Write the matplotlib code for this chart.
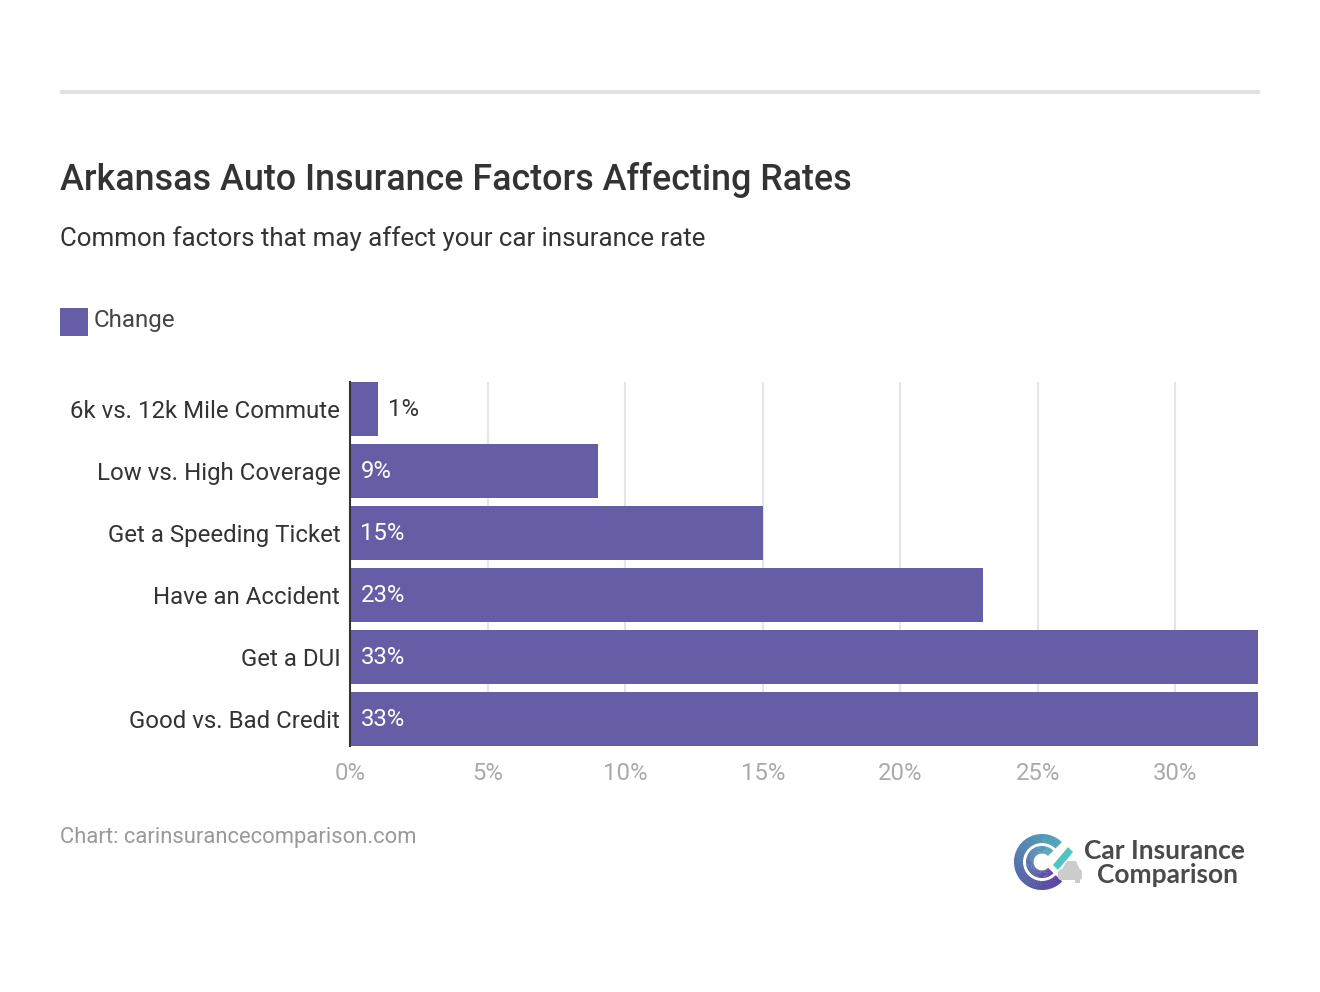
"""Arkansas auto insurance rate factors, horizontal bar chart."""
import numpy as np
import matplotlib
matplotlib.use("Agg")
import matplotlib.pyplot as plt
from matplotlib.patches import Wedge, Polygon, Rectangle, FancyBboxPatch

plt.rcParams["font.family"] = ["Roboto", "DejaVu Sans"]

categories = [
    "6k vs. 12k Mile Commute",
    "Low vs. High Coverage",
    "Get a Speeding Ticket",
    "Have an Accident",
    "Get a DUI",
    "Good vs. Bad Credit",
]
change = [1, 9, 15, 23, 33, 33]
x_ticks = [0, 5, 10, 15, 20, 25, 30]

PURPLE = "#655ea6"
W, H = 1320, 992


def px_axes(left, top, right, bottom):
    return [left / W, 1 - bottom / H, (right - left) / W, (bottom - top) / H]


fig = plt.figure(figsize=(W / 100, H / 100), dpi=100, facecolor="white")

# overlay in pixel coordinates for header, legend swatch and logo
bg = fig.add_axes([0, 0, 1, 1])
bg.set_xlim(0, W)
bg.set_ylim(H, 0)
bg.axis("off")
bg.add_patch(Rectangle((60, 90), 1200, 4, color="#e2e2e2", lw=0))
bg.text(60, 180, "Arkansas Auto Insurance Factors Affecting Rates", fontsize=25.85,
        fontweight="medium", color="#333333", va="center", ha="left")
bg.text(60, 239, "Common factors that may affect your car insurance rate", fontsize=18.65,
        color="#333333", va="center", ha="left")
bg.add_patch(Rectangle((60, 308), 28, 28, color=PURPLE, lw=0))
bg.text(94, 321, "Change", fontsize=17.4, color="#444444", va="center", ha="left")
bg.text(60, 837, "Chart: carinsurancecomparison.com", fontsize=15.83, color="#999999",
        va="center", ha="left")

ax = fig.add_axes(px_axes(350, 382, 1258, 746))
y = np.arange(len(categories))
ax.barh(y, change, height=54 / 62, color=PURPLE, zorder=2)
ax.set_xlim(0, 33)
ax.set_ylim(y[-1] + 27 / 62, y[0] - 27 / 62)
ax.set_facecolor("none")

ax.set_yticks(y, categories)
ax.set_xticks(x_ticks, [f"{t}%" for t in x_ticks])
ax.tick_params(axis="y", length=0, pad=7, labelsize=17.25, labelcolor="#333333")
ax.tick_params(axis="x", length=0, pad=11.5, labelsize=17.2, labelcolor="#aaaaaa")
ax.grid(axis="x", color="#e6e6e6", linewidth=1.5, zorder=1)
ax.set_axisbelow(True)
for side in ["top", "right", "bottom"]:
    ax.spines[side].set_visible(False)
ax.spines["left"].set_color("#333333")
ax.spines["left"].set_linewidth(1.5)
ax.spines["left"].set_zorder(5)

for i, v in enumerate(change):
    # small bars get the label outside
    inside = v >= 5
    ax.annotate(f"{v}%", (v if not inside else 0, i), xytext=(7.5, 0), textcoords="offset points",
                va="center", ha="left", fontsize=17.2,
                color="white" if inside else "#333333", zorder=6)

# logo
cx, cy = 1042, 862
n = 60
start_col = np.array([0x4f, 0xa8, 0xb8])
end_col = np.array([0x5a, 0x42, 0xa0])
for k in range(n):
    t = k / (n - 1)
    col = (start_col + (end_col - start_col) * t) / 255
    a0 = 45 + (270 / n) * k
    # y axis is inverted so angles are negated
    bg.add_patch(Wedge((cx, cy), 28, -a0 - 270 / n - 1, -a0, width=9, color=col, lw=0))
    bg.add_patch(Wedge((cx, cy), 16, -a0 - 270 / n - 1, -a0, width=7.5, color=col, lw=0))
# car behind the check mark
bg.add_patch(FancyBboxPatch((1058, 869), 24, 11, boxstyle="round,pad=0,rounding_size=3",
                            color="#cccccc", lw=0))
bg.add_patch(Polygon([(1062, 870), (1066, 861), (1076, 861), (1080, 870)], color="#cccccc", lw=0))
bg.add_patch(Rectangle((1075, 879), 5, 4, color="#cccccc", lw=0))
bg.add_patch(Polygon([(1052, 865), (1068, 846), (1074, 852), (1058, 871)], color="#4fc4c0",
                     ec="white", lw=1))
bg.text(1164, 851, "Car Insurance", fontsize=19, fontweight="bold", color="#4a4a4a",
        ha="center", va="center", family=["Lato", "DejaVu Sans"])
bg.text(1167, 875, "Comparison", fontsize=19, fontweight="bold", color="#4a4a4a",
        ha="center", va="center", family=["Lato", "DejaVu Sans"])

fig.savefig("out.png", dpi=100, facecolor="white")
